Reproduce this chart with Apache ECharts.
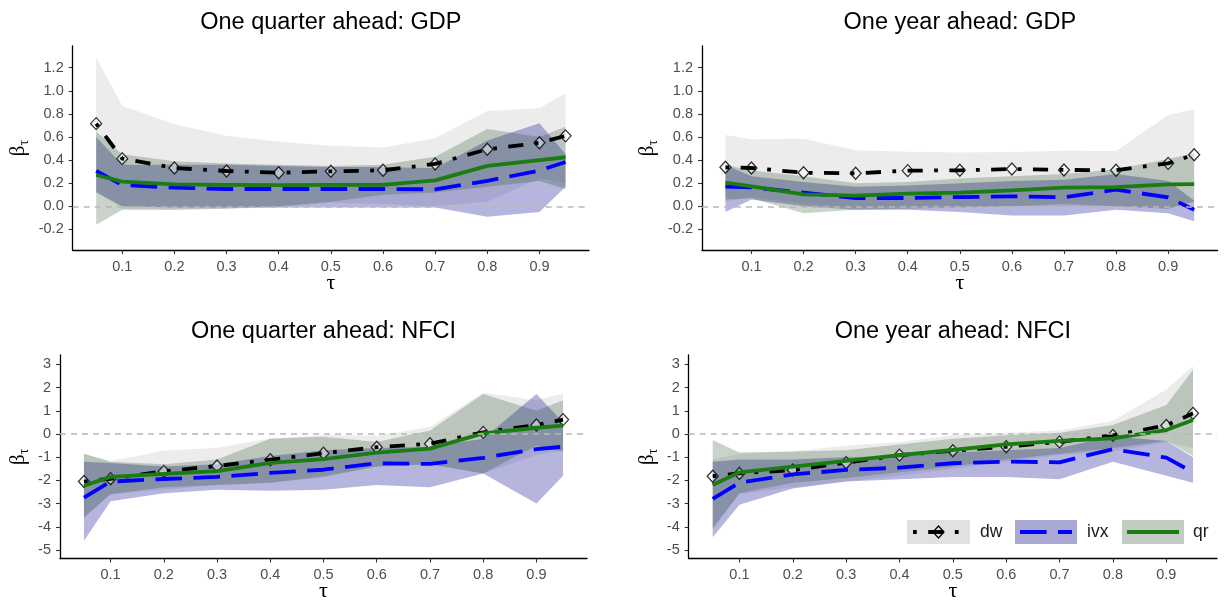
<!DOCTYPE html>
<html><head><meta charset="utf-8">
<script src="https://cdn.jsdelivr.net/npm/echarts@6/dist/echarts.min.js"></script>
<style>html,body{margin:0;padding:0;background:#fff}#c{width:1225px;height:603px}</style>
</head><body><div id="c"></div>
<script>
// ---------- data ----------
const tau = [0.05, 0.1, 0.2, 0.3, 0.4, 0.5, 0.6, 0.7, 0.8, 0.9, 0.95];
const xTicks = [0.1, 0.2, 0.3, 0.4, 0.5, 0.6, 0.7, 0.8, 0.9];
const yTicksGDP = [-0.2, 0, 0.2, 0.4, 0.6, 0.8, 1.0, 1.2];
const yTicksNFCI = [-5, -4, -3, -2, -1, 0, 1, 2, 3];
const titles = ["One quarter ahead: GDP", "One year ahead: GDP", "One quarter ahead: NFCI", "One year ahead: NFCI"];
const seriesNames = ["dw", "ivx", "qr"];

// One quarter ahead: GDP
const qGdpDw    = [0.716, 0.413, 0.332, 0.306, 0.291, 0.303, 0.312, 0.367, 0.494, 0.55, 0.61];
const qGdpDwLo  = [0.13, -0.02, -0.03, -0.02, -0.01, 0.03, 0.02, 0.0, 0.04, 0.24, 0.2];
const qGdpDwHi  = [1.29, 0.87, 0.71, 0.61, 0.56, 0.525, 0.51, 0.59, 0.825, 0.85, 0.98];
const qGdpIvx   = [0.306, 0.185, 0.162, 0.15, 0.15, 0.15, 0.15, 0.147, 0.22, 0.31, 0.384];
const qGdpIvxLo = [0.12, 0.0, -0.01, -0.01, -0.01, -0.01, -0.01, -0.01, -0.09, -0.05, 0.17];
const qGdpIvxHi = [0.6, 0.36, 0.36, 0.36, 0.35, 0.34, 0.34, 0.33, 0.57, 0.72, 0.45];
const qGdpQr    = [0.271, 0.214, 0.19, 0.185, 0.183, 0.185, 0.185, 0.225, 0.35, 0.40, 0.425];
const qGdpQrLo  = [-0.16, -0.03, -0.03, -0.02, 0.0, 0.04, 0.1, 0.12, 0.17, 0.22, 0.15];
const qGdpQrHi  = [0.645, 0.45, 0.39, 0.37, 0.36, 0.35, 0.36, 0.43, 0.67, 0.6, 0.69];

// One year ahead: GDP
const yGdpDw    = [0.338, 0.332, 0.291, 0.286, 0.309, 0.312, 0.323, 0.315, 0.312, 0.372, 0.447];
const yGdpDwLo  = [0.04, 0.08, 0.02, -0.01, 0.0, 0.0, 0.0, 0.0, 0.0, -0.02, 0.05];
const yGdpDwHi  = [0.618, 0.58, 0.586, 0.485, 0.473, 0.465, 0.47, 0.482, 0.479, 0.79, 0.84];
const yGdpIvx   = [0.17, 0.165, 0.118, 0.072, 0.072, 0.08, 0.087, 0.078, 0.144, 0.078, -0.03];
const yGdpIvxLo = [-0.05, 0.06, 0.0, -0.03, -0.03, -0.05, -0.08, -0.08, -0.03, -0.06, -0.13];
const yGdpIvxHi = [0.36, 0.26, 0.21, 0.17, 0.18, 0.2, 0.22, 0.23, 0.28, 0.22, 0.05];
const yGdpQr    = [0.205, 0.173, 0.104, 0.092, 0.11, 0.118, 0.139, 0.162, 0.167, 0.19, 0.193];
const yGdpQrLo  = [0.06, 0.07, -0.06, -0.03, -0.02, -0.01, 0.0, 0.02, 0.0, -0.02, 0.04];
const yGdpQrHi  = [0.36, 0.31, 0.26, 0.2, 0.21, 0.24, 0.26, 0.28, 0.32, 0.41, 0.46];

// One quarter ahead: NFCI
const qNfciDw    = [-2.05, -1.93, -1.61, -1.38, -1.11, -0.83, -0.57, -0.42, 0.07, 0.39, 0.62];
const qNfciDwLo  = [-3.6, -2.6, -2.4, -2.2, -2.1, -1.8, -1.4, -1.3, -1.7, -0.9, -0.7];
const qNfciDwHi  = [-0.86, -1.16, -0.72, -0.59, -0.19, -0.04, -0.07, 0.3, 1.78, 1.46, 1.75];
const qNfciIvx   = [-2.74, -2.05, -1.94, -1.85, -1.68, -1.54, -1.26, -1.29, -1.03, -0.65, -0.55];
const qNfciIvxLo = [-4.6, -2.9, -2.55, -2.4, -2.45, -2.4, -2.2, -2.3, -1.7, -3.0, -1.8];
const qNfciIvxHi = [-1.2, -1.25, -1.4, -1.3, -0.95, -0.7, -0.6, -0.55, -0.2, 1.72, 0.5];
const qNfciQr    = [-2.23, -1.85, -1.72, -1.6, -1.24, -1.08, -0.8, -0.63, 0.03, 0.27, 0.36];
const qNfciQrLo  = [-3.6, -2.6, -2.3, -2.2, -2.1, -1.85, -1.4, -1.3, -1.7, -0.5, -0.75];
const qNfciQrHi  = [-0.85, -1.2, -1.3, -1.1, -0.2, -0.12, -0.35, 0.15, 1.72, 1.0, 1.45];

// One year ahead: NFCI
const yNfciDw    = [-1.82, -1.70, -1.55, -1.24, -0.91, -0.72, -0.55, -0.34, -0.06, 0.37, 0.89];
const yNfciDwLo  = [-4.0, -2.6, -2.3, -2.05, -1.8, -1.5, -1.2, -0.9, -0.75, -0.35, -0.6];
const yNfciDwHi  = [-1.1, -0.85, -0.75, -0.5, -0.35, -0.05, 0.05, 0.15, 0.57, 1.92, 2.93];
const yNfciIvx   = [-2.8, -2.1, -1.74, -1.55, -1.45, -1.26, -1.19, -1.22, -0.65, -1.02, -1.65];
const yNfciIvxLo = [-4.45, -3.05, -2.35, -2.05, -1.95, -1.85, -1.85, -1.95, -1.2, -1.8, -2.1];
const yNfciIvxHi = [-1.2, -1.1, -1.1, -1.0, -0.95, -0.8, -0.7, -0.6, -0.1, -0.3, -1.0];
const yNfciQr    = [-2.2, -1.65, -1.41, -1.16, -0.91, -0.69, -0.45, -0.3, -0.19, 0.17, 0.6];
const yNfciQrLo  = [-4.1, -2.55, -2.1, -1.9, -1.65, -1.4, -1.1, -0.85, -0.6, -0.3, -0.95];
const yNfciQrHi  = [-0.26, -0.8, -0.75, -0.7, -0.45, -0.2, -0.05, 0.05, 0.39, 1.25, 2.76];

// ---------- layout & style ----------
const panelData = [
  {dw:[qGdpDw,qGdpDwLo,qGdpDwHi], ivx:[qGdpIvx,qGdpIvxLo,qGdpIvxHi], qr:[qGdpQr,qGdpQrLo,qGdpQrHi]},
  {dw:[yGdpDw,yGdpDwLo,yGdpDwHi], ivx:[yGdpIvx,yGdpIvxLo,yGdpIvxHi], qr:[yGdpQr,yGdpQrLo,yGdpQrHi]},
  {dw:[qNfciDw,qNfciDwLo,qNfciDwHi], ivx:[qNfciIvx,qNfciIvxLo,qNfciIvxHi], qr:[qNfciQr,qNfciQrLo,qNfciQrHi]},
  {dw:[yNfciDw,yNfciDwLo,yNfciDwHi], ivx:[yNfciIvx,yNfciIvxLo,yNfciIvxHi], qr:[yNfciQr,yNfciQrLo,yNfciQrHi]}
];
const grids = [
  {left: 72.7, top: 46, width: 516.3, height: 204},
  {left: 702, top: 46, width: 515.6, height: 204},
  {left: 60, top: 355, width: 527, height: 203.5},
  {left: 688.7, top: 355, width: 528.3, height: 203.5}
];
const yRanges = [[-0.378, 1.388], [-0.378, 1.388], [-5.366, 3.405], [-5.366, 3.405]];
const yTickSets = [yTicksGDP, yTicksGDP, yTicksNFCI, yTicksNFCI];
const yFmt = [v => v.toFixed(1), v => v.toFixed(1), v => String(Math.round(v)), v => String(Math.round(v))];
const betaX = [18, 647, 18, 647];

const LW = 3.8;
const styles = {
  dw:  {color: '#000000', dash: [LW, 3*LW, 4*LW, 3*LW], band: 'rgba(160,160,160,0.2)', key: '#e1e1e1'},
  ivx: {color: '#0000ff', dash: [7*LW, 3*LW], band: 'rgba(0,0,139,0.29)', key: '#a9a9d3'},
  qr:  {color: '#1a7d12', dash: 'solid', band: 'rgba(40,80,40,0.25)', key: '#c2ccc2'}
};
const SANS = "'Liberation Sans', Arial, sans-serif";
const SERIF = "'Liberation Serif', 'DejaVu Serif', serif";

function bandSeries(gi, lo, hi, color) {
  return {
    type: 'custom', xAxisIndex: gi, yAxisIndex: gi, z: 1, silent: true,
    data: tau.map((t, i) => [t, lo[i], hi[i]]),
    encode: {x: 0, y: [1, 2]},
    renderItem: function (params, api) {
      if (params.dataIndex !== 0) return null;
      const pts = [];
      for (let i = 0; i < tau.length; i++) pts.push(api.coord([tau[i], hi[i]]));
      for (let i = tau.length - 1; i >= 0; i--) pts.push(api.coord([tau[i], lo[i]]));
      return {type: 'polygon', shape: {points: pts}, style: {fill: color}};
    }
  };
}

const option = {
  animation: false,
  backgroundColor: '#ffffff',
  grid: grids.map(g => Object.assign({containLabel: false}, g)),
  xAxis: grids.map((g, i) => ({
    type: 'value', gridIndex: i, min: 0.005, max: 0.995,
    axisLine: {onZero: false, lineStyle: {color: '#000', width: 1.3}},
    axisTick: {show: true, length: 4, customValues: xTicks, lineStyle: {color: '#333', width: 1.1}},
    axisLabel: {customValues: xTicks, formatter: v => v.toFixed(1), color: '#4d4d4d', fontSize: 14.5, fontFamily: SANS, margin: 9},
    splitLine: {show: false}
  })),
  yAxis: grids.map((g, i) => ({
    type: 'value', gridIndex: i, min: yRanges[i][0], max: yRanges[i][1],
    axisLine: {show: true, onZero: false, lineStyle: {color: '#000', width: 1.3}},
    axisTick: {show: true, length: 4, customValues: yTickSets[i], lineStyle: {color: '#333', width: 1.1}},
    axisLabel: {customValues: yTickSets[i], formatter: yFmt[i], color: '#4d4d4d', fontSize: 14.5, fontFamily: SANS, margin: 9},
    splitLine: {show: false}
  })),
  series: [],
  graphic: []
};

panelData.forEach((p, gi) => {
  seriesNames.forEach(n => {
    option.series.push(bandSeries(gi, p[n][1], p[n][2], styles[n].band));
  });
  // zero reference line
  option.series.push({
    type: 'line', xAxisIndex: gi, yAxisIndex: gi, data: [], silent: true, z: 2,
    markLine: {silent: true, symbol: ['none', 'none'], label: {show: false},
      lineStyle: {color: '#b8b8b8', width: 1.5, type: [6, 5]},
      data: [{yAxis: 0}]}
  });
  // dw markers
  option.series.push({
    type: 'scatter', xAxisIndex: gi, yAxisIndex: gi, z: 3, silent: true,
    data: tau.map((t, i) => [t, p.dw[0][i]]),
    symbol: 'diamond', symbolSize: [11, 12],
    itemStyle: {color: 'rgba(255,255,255,0.55)', borderColor: '#000', borderWidth: 1.3}
  });
  seriesNames.forEach(n => {
    option.series.push({
      type: 'line', name: n, xAxisIndex: gi, yAxisIndex: gi, z: 4, silent: true,
      data: tau.map((t, i) => [t, p[n][0][i]]),
      symbol: 'none', showSymbol: false,
      lineStyle: {color: styles[n].color, width: LW, type: styles[n].dash, cap: 'butt', join: 'round'}
    });
  });
  const g = grids[gi];
  const cx = g.left + g.width / 2;
  option.graphic.push({
    type: 'text', x: cx, y: g.top - 23.7, z: 10,
    style: {text: titles[gi], fill: '#000', font: '23.5px ' + SANS, align: 'center', verticalAlign: 'middle'}
  });
  option.graphic.push({
    type: 'text', x: cx, y: g.top + g.height + 33, z: 10,
    style: {text: 'τ', fill: '#000', font: '22px ' + SERIF, align: 'center', verticalAlign: 'middle'}
  });
  option.graphic.push({
    type: 'text', x: betaX[gi], y: g.top + g.height / 2, rotation: Math.PI / 2, z: 10,
    style: {text: '{b|β}{s|τ}', align: 'center', verticalAlign: 'middle',
      rich: {b: {fontSize: 21, fontFamily: SERIF, fill: '#000', color: '#000', lineHeight: 26},
             s: {fontSize: 14, fontFamily: SERIF, fill: '#000', color: '#000', lineHeight: 26, verticalAlign: 'bottom', padding: [8, 0, 0, 0]}}}
  });
});

// legend (inside bottom-right panel)
const legendKeys = [
  {n: 'dw', x: 907, w: 63, tx: 980},
  {n: 'ivx', x: 1015, w: 62, tx: 1087},
  {n: 'qr', x: 1122, w: 62, tx: 1193}
];
const ly = 532;
legendKeys.forEach(k => {
  const s = styles[k.n];
  option.graphic.push({type: 'rect', z: 20, shape: {x: k.x, y: ly - 12, width: k.w, height: 24}, style: {fill: s.key}});
  const x1 = k.n === 'dw' ? k.x + 6 : k.x + 5;
  const x2 = k.n === 'dw' ? k.x + 52 : k.x + k.w - 5;
  option.graphic.push({type: 'line', z: 21, shape: {x1: x1, y1: ly, x2: x2, y2: ly},
    style: {stroke: s.color, lineWidth: LW, lineDash: s.dash === 'solid' ? null : s.dash, lineCap: 'butt'}});
  if (k.n === 'dw') {
    option.graphic.push({type: 'polygon', z: 22, shape: {points: [[k.x + 31.5, ly - 6], [k.x + 37, ly], [k.x + 31.5, ly + 6], [k.x + 26, ly]]},
      style: {fill: 'rgba(0,0,0,0)', stroke: '#000', lineWidth: 1.3}});
  }
  option.graphic.push({type: 'text', z: 21, x: k.tx, y: ly,
    style: {text: k.n, fill: '#1a1a1a', font: '17.5px ' + SANS, align: 'left', verticalAlign: 'middle'}});
});

const chart = echarts.init(document.getElementById('c'), null, {renderer: 'canvas'});
chart.setOption(option);
</script>
</body></html>
